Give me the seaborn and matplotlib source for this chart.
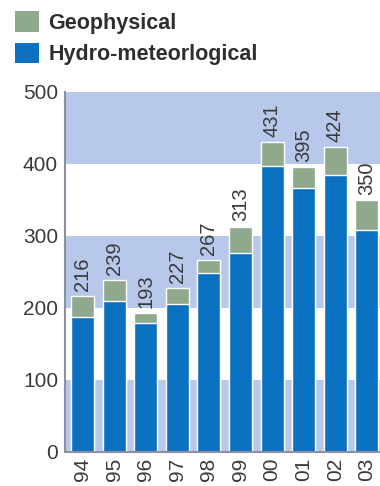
import matplotlib
matplotlib.use("Agg")
import matplotlib.pyplot as plt
from matplotlib.patches import Patch
import seaborn as sns
import pandas as pd

years = ["94", "95", "96", "97", "98", "99", "00", "01", "02", "03"]
totals = [216, 239, 193, 227, 267, 313, 431, 395, 424, 350]
hydro = [188, 210, 179, 206, 248, 276, 397, 366, 384, 308]

GEO_COLOR = "#8fa98d"
HYDRO_COLOR = "#0a70c0"
BAND_COLOR = "#b8c8ea"
TEXT_COLOR = "#3a3a3a"

sns.set_theme(style="white")
plt.rcParams["font.family"] = ["Liberation Sans", "DejaVu Sans"]

df = pd.DataFrame({"year": years, "total": totals, "hydro": hydro})

fig = plt.figure(figsize=(3.8, 4.86), dpi=100)
ax = fig.add_axes([0.171, 0.070, 0.829, 0.741])

# alternating horizontal bands
for lo in (0, 200, 400):
    ax.axhspan(lo, lo + 100, color=BAND_COLOR, lw=0, zorder=0)

# stacked bars: full total in geophysical colour, hydro-meteorological part on top
sns.barplot(data=df, x="year", y="total", color=GEO_COLOR, width=0.73,
            saturation=1, ax=ax, zorder=2)
sns.barplot(data=df, x="year", y="hydro", color=HYDRO_COLOR, width=0.73,
            saturation=1, ax=ax, zorder=3)

for i, t in enumerate(totals):
    ax.text(i, t + 7, str(t), rotation=90, ha="center", va="bottom",
            fontsize=14.5, color=TEXT_COLOR, zorder=4)

ax.set_xlim(-0.56, 9.42)
ax.set_ylim(0, 500)
ax.set_yticks([0, 100, 200, 300, 400, 500])
ax.set_xlabel("")
ax.set_ylabel("")
ax.tick_params(axis="both", length=0, labelsize=15, colors=TEXT_COLOR)
ax.tick_params(axis="x", rotation=90, pad=4)
ax.tick_params(axis="y", pad=5)

for side in ("top", "right"):
    ax.spines[side].set_visible(False)
for side in ("left", "bottom"):
    ax.spines[side].set_color("#8c90a0")
    ax.spines[side].set_linewidth(1.5)
    ax.spines[side].set_zorder(5)

handles = [Patch(facecolor=GEO_COLOR, edgecolor="none", label="Geophysical"),
           Patch(facecolor=HYDRO_COLOR, edgecolor="none", label="Hydro-meteorlogical")]
leg = fig.legend(handles=handles, loc="upper left", bbox_to_anchor=(-0.006, 1.012),
                 frameon=False, fontsize=15.5, handlelength=1.1, handleheight=1.1,
                 handletextpad=0.45, labelspacing=0.4, borderpad=0.3)
for txt in leg.get_texts():
    txt.set_fontweight("bold")
    txt.set_color("#2e2e2e")

fig.savefig("out.png", dpi=100)
